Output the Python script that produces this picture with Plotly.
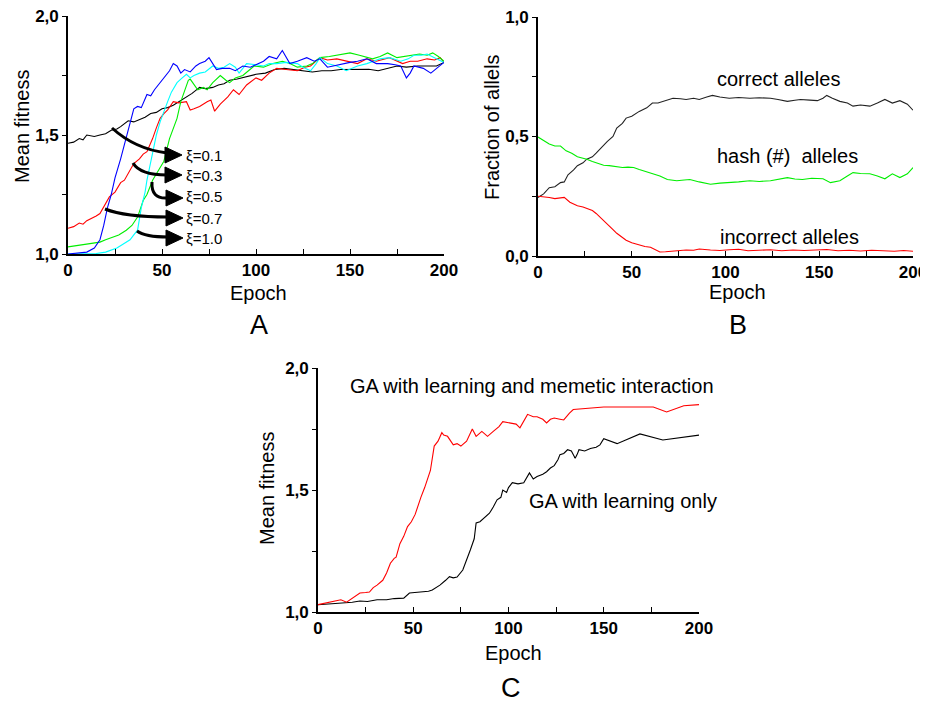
import plotly.graph_objects as go

# ---------------- Panel A : mean fitness for different xi ----------------
a_black_x = [0,3,6,8,10,14,17,20,23,26,28,32,35,38,41,44,47,50,53,56,60,63,66,70,73,77,80,83,86,90,95,100,105,110,115,120,125,130,135,140,145,150,155,160,165,170,175,180,186,191,196,200]
a_black_y = [1.465,1.47,1.485,1.48,1.50,1.494,1.50,1.505,1.52,1.525,1.535,1.56,1.555,1.565,1.575,1.59,1.595,1.61,1.615,1.625,1.645,1.66,1.675,1.70,1.695,1.70,1.71,1.715,1.73,1.735,1.745,1.755,1.76,1.775,1.78,1.775,1.77,1.765,1.77,1.77,1.775,1.776,1.775,1.776,1.77,1.78,1.79,1.785,1.79,1.79,1.79,1.805]

a_red_x = [0,3,6,8,10,13,15,17,20,22,25,28,30,33,35,38,40,42,45,47,49,51,53,56,59,63,65,67,70,74,76,78,81,85,88,91,95,100,103,107,111,116,122,126,129,134,138,143,148,154,159,164,171,178,182,186,191,195,198,200]
a_red_y = [1.108,1.115,1.13,1.125,1.14,1.15,1.16,1.17,1.21,1.24,1.26,1.30,1.31,1.35,1.38,1.40,1.42,1.43,1.485,1.53,1.57,1.59,1.605,1.64,1.635,1.64,1.605,1.61,1.62,1.64,1.647,1.60,1.63,1.66,1.69,1.67,1.71,1.74,1.73,1.76,1.78,1.775,1.77,1.785,1.79,1.825,1.815,1.82,1.81,1.80,1.82,1.81,1.825,1.80,1.81,1.81,1.82,1.815,1.825,1.805]

a_green_x = [0,5,9,13,17,20,24,27,31,34,37,40,42,45,48,51,54,56,58,60,62,64,65,67,69,72,74,77,79,81,84,86,89,93,96,99,104,109,114,118,122,127,130,134,139,143,147,150,155,159,162,166,170,175,179,182,187,191,194,197,200]
a_green_y = [1.03,1.035,1.04,1.045,1.05,1.06,1.07,1.08,1.10,1.12,1.155,1.225,1.25,1.31,1.35,1.39,1.485,1.53,1.57,1.64,1.69,1.73,1.735,1.71,1.69,1.70,1.69,1.72,1.735,1.75,1.73,1.72,1.74,1.75,1.77,1.79,1.785,1.80,1.81,1.80,1.785,1.79,1.80,1.825,1.83,1.835,1.84,1.845,1.835,1.825,1.82,1.83,1.845,1.825,1.83,1.835,1.84,1.835,1.845,1.83,1.81]

a_blue_x = [0,5,10,14,17,19,21,23,25,28,30,32,35,37,39,42,44,46,49,52,54,56,58,60,62,65,68,70,73,75,77,79,82,86,89,93,97,101,104,107,111,114,118,122,127,131,134,138,141,146,150,154,159,164,170,174,177,180,182,184,189,193,196,200]
a_blue_y = [1.00,1.003,1.008,1.025,1.06,1.12,1.195,1.25,1.32,1.40,1.46,1.52,1.61,1.62,1.615,1.67,1.665,1.69,1.72,1.75,1.77,1.80,1.79,1.76,1.775,1.765,1.79,1.80,1.81,1.825,1.80,1.775,1.78,1.78,1.77,1.79,1.785,1.80,1.81,1.83,1.82,1.855,1.80,1.81,1.825,1.81,1.82,1.785,1.79,1.80,1.805,1.81,1.82,1.80,1.80,1.795,1.79,1.74,1.76,1.79,1.78,1.76,1.78,1.805]

a_cyan_x = [0,5,10,15,20,23,26,29,33,35,37,39,41,42,44,45,47,49,51,53,55,58,60,63,65,67,70,73,77,80,83,86,89,91,93,95,100,104,107,111,116,122,125,129,132,134,138,143,148,151,154,159,163,166,171,177,181,184,188,191,196,200]
a_cyan_y = [1.00,1.00,1.00,1.002,1.008,1.015,1.025,1.04,1.06,1.08,1.10,1.195,1.26,1.31,1.39,1.43,1.50,1.555,1.60,1.64,1.68,1.72,1.735,1.755,1.74,1.75,1.76,1.765,1.79,1.78,1.785,1.80,1.785,1.76,1.78,1.80,1.795,1.79,1.80,1.80,1.805,1.80,1.785,1.77,1.80,1.825,1.80,1.79,1.77,1.78,1.79,1.80,1.81,1.82,1.825,1.81,1.82,1.835,1.835,1.84,1.82,1.805]

xi_labels = ["\u03be=0.1", "\u03be=0.3", "\u03be=0.5", "\u03be=0.7", "\u03be=1.0"]

# ---------------- Panel B : fraction of alleles ----------------
b_correct_x = [0,3,6,9,12,14,16,19,21,24,26,29,31,34,37,40,42,45,47,50,54,58,61,64,67,70,72,76,79,83,86,90,93,97,102,107,113,118,124,128,133,137,140,145,149,152,154,157,161,165,168,172,177,181,185,189,193,197,200]
b_correct_y = [0.245,0.26,0.286,0.29,0.307,0.31,0.34,0.36,0.378,0.39,0.405,0.415,0.43,0.455,0.48,0.50,0.535,0.555,0.577,0.585,0.605,0.62,0.64,0.64,0.647,0.655,0.66,0.658,0.655,0.66,0.655,0.665,0.672,0.665,0.66,0.663,0.66,0.662,0.66,0.655,0.647,0.652,0.655,0.652,0.65,0.66,0.672,0.66,0.647,0.64,0.627,0.632,0.627,0.64,0.655,0.64,0.65,0.635,0.61]

b_hash_x = [0,3,6,9,12,15,18,21,24,26,29,31,35,38,41,45,48,51,54,56,59,61,65,69,72,74,78,81,86,92,97,102,107,113,118,124,128,133,137,141,146,152,156,159,161,165,168,172,177,181,185,189,193,197,200]
b_hash_y = [0.498,0.485,0.469,0.46,0.46,0.44,0.43,0.415,0.41,0.405,0.395,0.39,0.38,0.378,0.375,0.37,0.372,0.37,0.362,0.357,0.35,0.344,0.335,0.32,0.318,0.315,0.318,0.32,0.31,0.30,0.305,0.307,0.31,0.315,0.312,0.315,0.32,0.328,0.322,0.32,0.325,0.323,0.307,0.31,0.315,0.335,0.349,0.345,0.344,0.335,0.323,0.344,0.328,0.344,0.37]

b_incorrect_x = [0,3,6,9,12,14,17,21,24,26,29,31,34,37,40,42,45,47,50,54,57,60,63,65,68,72,76,79,83,86,92,97,102,107,112,118,124,130,136,142,148,154,160,166,172,178,184,190,195,200]
b_incorrect_y = [0.25,0.248,0.245,0.24,0.242,0.245,0.225,0.21,0.205,0.20,0.19,0.178,0.155,0.129,0.11,0.095,0.078,0.066,0.055,0.046,0.04,0.037,0.025,0.017,0.018,0.021,0.022,0.025,0.024,0.029,0.025,0.023,0.026,0.028,0.022,0.024,0.026,0.022,0.025,0.023,0.025,0.027,0.022,0.024,0.021,0.024,0.022,0.02,0.023,0.02]

b_labels = ["correct alleles", "hash (#)  alleles", "incorrect alleles"]

# ---------------- Panel C : GA with / without memetic interaction ----------------
c_memetic_x = [0,3,6,9,12,15,18,20,22,25,27,29,31,34,36,38,40,41,43,45,47,49,51,54,56,59,61,63,65,66,68,71,73,75,78,81,83,86,89,92,95,97,101,104,106,108,110,113,115,118,120,122,124,127,129,132,134,150,176,183,192,200]
c_memetic_y = [1.03,1.035,1.04,1.042,1.05,1.04,1.055,1.065,1.078,1.08,1.082,1.10,1.11,1.13,1.16,1.20,1.22,1.225,1.28,1.31,1.35,1.37,1.40,1.47,1.51,1.58,1.68,1.70,1.735,1.725,1.72,1.685,1.69,1.68,1.70,1.75,1.72,1.74,1.72,1.74,1.76,1.78,1.775,1.77,1.755,1.78,1.81,1.80,1.80,1.79,1.775,1.79,1.795,1.79,1.787,1.815,1.83,1.84,1.84,1.82,1.845,1.85]

c_learning_x = [0,5,10,13,18,22,26,31,36,40,45,48,51,55,58,60,62,64,67,69,71,73,76,78,80,82,83,85,87,89,90,92,94,96,97,99,100,102,105,108,110,111,113,115,118,120,122,124,126,127,129,131,133,135,136,137,140,143,146,148,150,157,169,181,200]
c_learning_y = [1.03,1.032,1.035,1.037,1.04,1.045,1.043,1.05,1.05,1.055,1.057,1.078,1.08,1.082,1.085,1.09,1.10,1.11,1.13,1.145,1.14,1.143,1.172,1.21,1.255,1.30,1.365,1.37,1.385,1.40,1.405,1.43,1.46,1.47,1.50,1.49,1.51,1.53,1.525,1.53,1.56,1.57,1.545,1.555,1.565,1.575,1.59,1.60,1.625,1.645,1.65,1.665,1.66,1.63,1.645,1.665,1.66,1.67,1.675,1.685,1.71,1.69,1.73,1.705,1.725]

c_labels = ["GA with learning and memetic interaction", "GA with learning only"]

epoch_ticks = [0, 25, 50, 75, 100, 125, 150, 175, 200]
epoch_text = ["0", "", "50", "", "100", "", "150", "", "200"]
fit_ticks = [1.0, 1.25, 1.5, 1.75, 2.0]
fit_text = ["1,0", "", "1,5", "", "2,0"]
frac_ticks = [0.0, 0.25, 0.5, 0.75, 1.0]
frac_text = ["0,0", "", "0,5", "", "1,0"]

FONT = "Liberation Sans, Arial, sans-serif"
W, H = 928, 702
OFF = 8  # the page body has a default 8px margin; positions below are page pixels

def px(x):
    return (x - OFF) / W

def py(y):
    return 1 - (y - OFF) / H

fig = go.Figure()

def add(x, y, color, xa, ya):
    fig.add_trace(go.Scatter(x=x, y=y, mode="lines", line=dict(color=color, width=1.1),
                             xaxis=xa, yaxis=ya, showlegend=False, hoverinfo="skip"))

add(a_black_x, a_black_y, "#000000", "x", "y")
add(a_red_x, a_red_y, "#ff0000", "x", "y")
add(a_green_x, a_green_y, "#00ee00", "x", "y")
add(a_cyan_x, a_cyan_y, "#00ffff", "x", "y")
add(a_blue_x, a_blue_y, "#0000ff", "x", "y")

add(b_correct_x, b_correct_y, "#222222", "x2", "y2")
add(b_hash_x, b_hash_y, "#00ee00", "x2", "y2")
add(b_incorrect_x, b_incorrect_y, "#ff0000", "x2", "y2")

add(c_learning_x, c_learning_y, "#000000", "x3", "y3")
add(c_memetic_x, c_memetic_y, "#ff0000", "x3", "y3")

def xax(dom, anchor):
    return dict(domain=dom, anchor=anchor, range=[0, 200], tickvals=epoch_ticks, ticktext=epoch_text,
                showline=True, linecolor="black", linewidth=1.6, ticks="inside", ticklen=5,
                tickwidth=1, tickcolor="black", showgrid=False, zeroline=False, automargin=False,
                ticklabeloverflow="allow",
                tickfont=dict(family=FONT, size=17, color="black", weight="bold"), fixedrange=True)

def yax(dom, anchor, rng, tv, tt):
    return dict(domain=dom, anchor=anchor, range=rng, tickvals=tv, ticktext=tt,
                showline=True, linecolor="black", linewidth=1.6, ticks="outside", ticklen=4,
                tickwidth=1, tickcolor="black", showgrid=False, zeroline=False, automargin=False,
                ticklabeloverflow="allow",
                tickfont=dict(family=FONT, size=17, color="black", weight="bold"), fixedrange=True)

fig.update_layout(
    width=W, height=H, margin=dict(l=0, r=0, t=0, b=0, autoexpand=False),
    paper_bgcolor="white", plot_bgcolor="white",
    font=dict(family=FONT, color="black"),
    xaxis=xax([px(68), px(444)], "y"),
    yaxis=yax([py(254), py(16)], "x", [1, 2], fit_ticks, fit_text),
    xaxis2=xax([px(538), px(913)], "y2"),
    yaxis2=yax([py(256), py(17)], "x2", [0, 1], frac_ticks, frac_text),
    xaxis3=xax([px(318), px(699)], "y3"),
    yaxis3=yax([py(612), py(368)], "x3", [1, 2], fit_ticks, fit_text),
)

ann = []
def text(t, x, y, size=20, angle=0, xanchor="center"):
    ann.append(dict(text=t, x=px(x), y=py(y), xref="paper", yref="paper", showarrow=False,
                    xanchor=xanchor, yanchor="middle", textangle=angle,
                    font=dict(family=FONT, size=size, color="black")))

# axis titles and panel letters
text("Mean fitness", 22, 127, angle=-90)
text("Epoch", 258, 293)
text("A", 259, 325, size=27)
text("Fraction of allels", 492, 127, angle=-90)
text("Epoch", 737, 292)
text("B", 738, 325, size=27)
text("Mean fitness", 267, 489, angle=-90)
text("Epoch", 513, 653)
text("C", 511, 688, size=27)

# xi labels
for lab, yy in zip(xi_labels, [155, 175, 197, 218, 238]):
    text(lab, 184, yy, size=15, xanchor="left")

# panel B labels
text(b_labels[0], 715, 79, xanchor="left")
text(b_labels[1], 715, 156, xanchor="left")
text(b_labels[2], 718, 237, xanchor="left")

# panel C labels
text(c_labels[0], 348, 386, xanchor="left")
text(c_labels[1], 527, 501, xanchor="left")

fig.update_layout(annotations=ann)

# curved arrows in panel A (decoration)
def P(x, y):
    return f"{px(x):.5f},{py(y):.5f}"

arrows = [
    ((112, 128), (135, 149), (167, 153), (182, 155)),
    ((133, 163), (140, 175), (167, 175), (182, 175)),
    ((152, 182), (151, 199), (167, 198), (183, 198)),
    ((105, 209), (125, 217), (168, 217), (183, 218)),
    ((137, 231), (145, 237), (168, 237), (183, 238)),
]
shapes = []
for s, c, e, tip in arrows:
    shapes.append(dict(type="path", xref="paper", yref="paper",
                       path=f"M {P(*s)} Q {P(*c)} {P(*e)}",
                       line=dict(color="black", width=3)))
    tx, ty = tip
    shapes.append(dict(type="path", xref="paper", yref="paper",
                       path=f"M {P(tx, ty)} L {P(tx-17, ty-8)} L {P(tx-17, ty+8)} Z",
                       fillcolor="black", line=dict(color="black", width=1)))
fig.update_layout(shapes=shapes)

fig.write_html("out.html")
